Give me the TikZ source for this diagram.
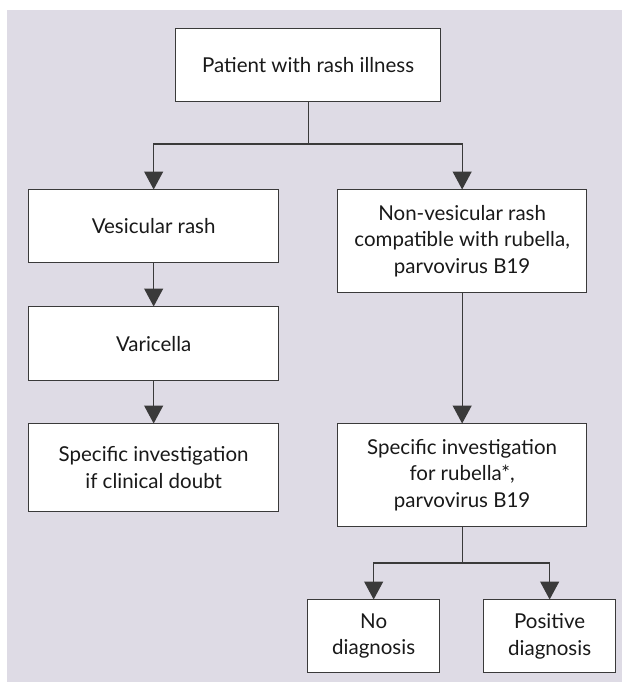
\documentclass[tikz,border=0pt]{standalone}
\usepackage{fontspec}
\setmainfont{Lato}
\usetikzlibrary{arrows.meta}
\definecolor{panel}{RGB}{222,219,229}
\definecolor{ink}{RGB}{58,58,58}
\definecolor{txt}{RGB}{25,25,25}
\begin{document}
\begin{tikzpicture}[x=1pt,y=-1pt,
  box/.style={draw=ink, fill=white, line width=1.3pt, inner sep=0pt,
    align=center, anchor=north west, text=txt,
    font=\fontsize{20.5}{26.5}\selectfont},
  link/.style={draw=ink, line width=1.3pt},
  arr/.style={link, -{Triangle[width=19pt,length=18pt]}, shorten >=-0.5pt}
]
% page and grey panel
\useasboundingbox (0,0) rectangle (622,682);
\fill[white] (0,0) rectangle (622,682);
\fill[panel] (7,10) rectangle (622,682);

% boxes
\node[box, minimum width=265pt, minimum height=73pt] (top) at (175,28) {Patient with rash illness};
\node[box, minimum width=250pt, minimum height=73pt] (ves) at (28,189) {Vesicular rash};
\node[box, minimum width=249pt, minimum height=103pt] (nonves) at (337,189) {Non-vesicular rash\\compatible with rubella,\\parvovirus B19};
\node[box, minimum width=250pt, minimum height=74pt] (var) at (28,306) {Varicella};
\node[box, minimum width=250pt, minimum height=88pt] (specl) at (28,423) {Specific investigation\\if clinical doubt};
\node[box, minimum width=249pt, minimum height=103pt] (specr) at (337,423) {Specific investigation\\for rubella*,\\parvovirus B19};
\node[box, minimum width=132pt, minimum height=73pt] (nodiag) at (307,599) {No\\diagnosis};
\node[box, minimum width=132pt, minimum height=73pt] (posdiag) at (483,599) {Positive\\diagnosis};

% junction points
\coordinate (j1) at (top.south |- 0,144);
\coordinate (j2) at (specr.south |- 0,563);

% connectors
\draw[link] (top.south) -- (j1);
\draw[arr] (j1) -| (ves.north);
\draw[arr] (j1) -| (nonves.north);
\draw[arr] (ves) -- (var);
\draw[arr] (var) -- (specl);
\draw[arr] (nonves) -- (specr);
\draw[link] (specr.south) -- (j2);
\draw[arr] (j2) -| (nodiag.north);
\draw[arr] (j2) -| (posdiag.north);
\end{tikzpicture}
\end{document}
